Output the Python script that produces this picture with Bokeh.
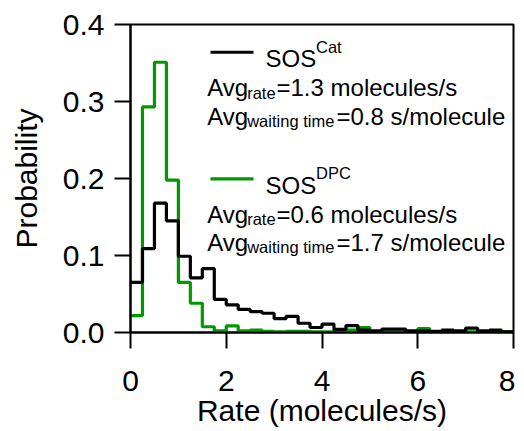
from bokeh.plotting import figure
from bokeh.models import Range1d, FixedTicker, NumeralTickFormatter
from bokeh.core.properties import value
from bokeh.embed import file_html
from bokeh.resources import INLINE

# ---- data ----
bin_width = 0.25
sos_cat = [0.065, 0.109, 0.168, 0.145, 0.099, 0.071, 0.083, 0.043,
           0.036, 0.030, 0.027, 0.025, 0.018, 0.021, 0.012, 0.0065,
           0.011, 0.004, 0.009, 0.003, 0.002, 0.0045, 0.0045, 0.002,
           0.002, 0.0015, 0.003, 0.002, 0.0057, 0.002, 0.003, 0.001]
sos_dpc = [0.022, 0.293, 0.351, 0.198, 0.065, 0.038, 0.0075, 0.002,
           0.0085, 0.002, 0.003, 0.0015, 0.001, 0.0015, 0.0015, 0.001,
           0.001, 0.003, 0.003, 0.0065, 0.001, 0.001, 0.001, 0.001,
           0.005, 0.001, 0.001, 0.001, 0.001, 0.001, 0.001, 0.001]
x_ticks = [0, 2, 4, 6, 8]
y_ticks = [0.0, 0.1, 0.2, 0.3, 0.4]
legend_names = [("SOS", "Cat"), ("SOS", "DPC")]
avg_rate = ["=1.3 molecules/s", "=0.6 molecules/s"]
avg_wait = ["=0.8 s/molecule", "=1.7 s/molecule"]

BLACK = "#000000"
GREEN = "#009900"
FONT = "Liberation Sans"

W, H = 515, 431
p = figure(width=W, height=H, output_backend="svg", toolbar_location=None,
           x_range=Range1d(0, 8), y_range=Range1d(0, 0.4),
           min_border_left=130, min_border_right=2,
           min_border_top=24, min_border_bottom=99)
p.xgrid.visible = False
p.ygrid.visible = False
p.outline_line_color = "black"
p.outline_line_width = 2
p.outline_line_alpha = 1.0

for ax in (p.xaxis[0], p.yaxis[0]):
    ax.axis_line_width = 2
    ax.major_tick_line_width = 2
    ax.major_tick_out = 16
    ax.major_tick_in = 0
    ax.minor_tick_line_color = None
    ax.major_label_text_font = FONT
    ax.major_label_text_font_size = "30px"
    ax.major_label_text_color = "black"
    ax.axis_label_text_font = FONT
    ax.axis_label_text_font_size = "30px"
    ax.axis_label_text_font_style = "normal"
    ax.axis_label_text_color = "black"

p.xaxis.ticker = FixedTicker(ticks=x_ticks)
p.yaxis.ticker = FixedTicker(ticks=y_ticks)
p.yaxis.formatter = NumeralTickFormatter(format="0.0")
p.xaxis.axis_label = "Rate (molecules/s)"
p.yaxis.axis_label = "Probability"
p.xaxis.major_label_standoff = 22
p.yaxis.major_label_standoff = 10
p.xaxis.axis_label_standoff = 0
p.yaxis.axis_label_standoff = 17

# histogram outlines
def edges(vals):
    return [i * bin_width for i in range(len(vals))] + [len(vals) * bin_width]

p.step(edges(sos_dpc), sos_dpc + [sos_dpc[-1]], mode="after",
       line_color=GREEN, line_width=3.2)
p.step(edges(sos_cat), sos_cat + [sos_cat[-1]], mode="after",
       line_color=BLACK, line_width=3.2)

# ---- legend/annotation text (positions in page pixels -> data) ----
def dx(px):
    return (px - 130) / 383 * 8

def dy(py):
    return (331.7 - py) / 307.7 * 0.4

def txt(px, py, s, size):
    p.text(x=[dx(px)], y=[dy(py)], text=[s], text_font=value(FONT),
           text_font_size=value(size), text_color="black",
           text_align="left", text_baseline="alphabetic")

BIG, SMALL = "24px", "16.5px"
colors = [BLACK, GREEN]
blocks_top = [51.7, 178.3]
for i, top in enumerate(blocks_top):
    p.line([dx(210), dx(253)], [dy(top), dy(top)], line_color=colors[i], line_width=3.2)
    txt(265, top + 6.6, legend_names[i][0], BIG)
    txt(315.5, top - 5.5, legend_names[i][1], SMALL)
    b1 = top + 35.3
    txt(206.7, b1, "Avg", BIG)
    txt(246.7, b1 + 5, "rate", SMALL)
    txt(276, b1, avg_rate[i], BIG)
    b2 = b1 + 28.5
    txt(206.7, b2, "Avg", BIG)
    txt(246.7, b2 + 4.5, "waiting time", SMALL)
    txt(336, b2, avg_wait[i], BIG)

open("out.html", "w").write(file_html(p, INLINE))
